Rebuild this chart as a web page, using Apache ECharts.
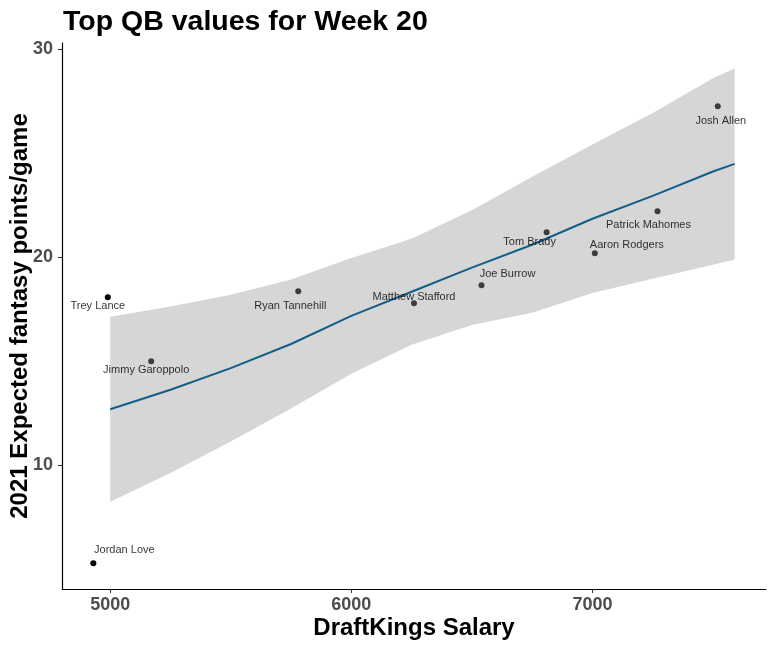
<!DOCTYPE html>
<html>
<head>
<meta charset="utf-8">
<script src="https://cdn.jsdelivr.net/npm/echarts@6/dist/echarts.min.js"></script>
<style>
html,body{margin:0;padding:0;background:#fff;}
#chart{width:773px;height:648px;}
</style>
</head>
<body>
<div id="chart"></div>
<script>
// ---- data ----
const players = ['Jordan Love','Trey Lance','Jimmy Garoppolo','Ryan Tannehill','Matthew Stafford','Joe Burrow','Tom Brady','Aaron Rodgers','Patrick Mahomes','Josh Allen'];
const salary  = [4930, 4990, 5170, 5780, 6260, 6540, 6810, 7010, 7270, 7520];
const xfp     = [5.29, 18.08, 15.0, 18.37, 17.79, 18.65, 21.2, 20.19, 22.21, 27.26];

// smooth fit
const fitX     = [5000, 5250, 5500, 5750, 6000, 6250, 6500, 6750, 7000, 7250, 7500, 7590];
const fitY     = [12.69, 13.63, 14.67, 15.83, 17.18, 18.34, 19.5, 20.6, 21.85, 22.95, 24.12, 24.49];
const bandLow  = [8.24, 9.63, 11.14, 12.73, 14.4, 15.79, 16.74, 17.33, 18.28, 18.97, 19.64, 19.89];
const bandHigh = [17.14, 17.63, 18.2, 18.93, 19.96, 20.89, 22.26, 23.87, 25.42, 26.93, 28.6, 29.09];

const xTicks = [5000, 6000, 7000];
const yTicks = [10, 20, 30];

// label placement (style: pixel offsets of each label from its point)
const labelOffsets = {
  'Jordan Love': [31, -13],
  'Trey Lance': [-10, 9],
  'Jimmy Garoppolo': [-5, 9],
  'Ryan Tannehill': [-8, 15],
  'Matthew Stafford': [0, -6],
  'Joe Burrow': [26, -11],
  'Tom Brady': [-17, 10],
  'Aaron Rodgers': [32, -8],
  'Patrick Mahomes': [-9, 14],
  'Josh Allen': [3, 15]
};

const FONT = "'Liberation Sans', Arial, sans-serif";
const chart = echarts.init(document.getElementById('chart'));

const pointData = players.map((n, i) => [salary[i], xfp[i]]);
const labelData = players.map((n, i) => ({
  name: n,
  value: [salary[i], xfp[i]],
  label: { offset: labelOffsets[n] }
}));

function renderBand(params, api) {
  const pts = [];
  for (let i = 0; i < fitX.length; i++) pts.push(api.coord([fitX[i], bandHigh[i]]));
  for (let i = fitX.length - 1; i >= 0; i--) pts.push(api.coord([fitX[i], bandLow[i]]));
  return { type: 'polygon', shape: { points: pts }, style: { fill: 'rgba(153,153,153,0.4)' } };
}

chart.setOption({
  animation: false,
  backgroundColor: '#ffffff',
  title: {
    text: 'Top QB values for Week 20',
    left: 63, top: 8, padding: 0,
    textStyle: { fontFamily: FONT, fontWeight: 'bold', fontSize: 28.5, color: '#000' }
  },
  grid: { left: 62, right: 7, top: 43, bottom: 59, containLabel: false, outerBoundsMode: 'none' },
  xAxis: {
    type: 'value', min: 4800, max: 7720,
    name: 'DraftKings Salary', nameLocation: 'middle', nameGap: 27, nameMoveOverlap: false,
    nameTextStyle: { fontFamily: FONT, fontWeight: 'bold', fontSize: 24, color: '#000' },
    axisLine: { show: true, lineStyle: { color: '#000', width: 1.2 } },
    axisTick: { show: true, length: 4, lineStyle: { color: '#333', width: 1 }, customValues: xTicks },
    axisLabel: { fontFamily: FONT, fontWeight: 'bold', fontSize: 18, color: '#4D4D4D', margin: 7,
      customValues: xTicks, formatter: v => String(v) },
    splitLine: { show: false }
  },
  yAxis: {
    type: 'value', min: 4.05, max: 30.3,
    name: '2021 Expected fantasy points/game', nameLocation: 'middle', nameGap: 30, nameMoveOverlap: false,
    nameTextStyle: { fontFamily: FONT, fontWeight: 'bold', fontSize: 24, color: '#000' },
    axisLine: { show: true, lineStyle: { color: '#000', width: 1.2 } },
    axisTick: { show: true, length: 4, lineStyle: { color: '#333', width: 1 }, customValues: yTicks },
    axisLabel: { fontFamily: FONT, fontWeight: 'bold', fontSize: 18, color: '#4D4D4D', margin: 9,
      customValues: yTicks, formatter: v => String(v) },
    splitLine: { show: false }
  },
  series: [
    {
      type: 'scatter', z: 2, data: pointData, symbol: 'circle', symbolSize: 6,
      itemStyle: { color: '#000', opacity: 1 }, silent: true
    },
    {
      type: 'custom', z: 3, renderItem: renderBand, data: [[fitX[0], fitY[0]]], silent: true, clip: true
    },
    {
      type: 'line', z: 4, data: fitX.map((x, i) => [x, fitY[i]]), showSymbol: false,
      lineStyle: { color: '#135E86', width: 2 }, silent: true
    },
    {
      type: 'scatter', z: 5, data: labelData, symbolSize: 0, silent: true,
      label: {
        show: true, position: 'inside', formatter: '{b}',
        fontFamily: FONT, fontSize: 11, color: '#000', align: 'center', verticalAlign: 'middle'
      }
    }
  ]
});
</script>
</body>
</html>
